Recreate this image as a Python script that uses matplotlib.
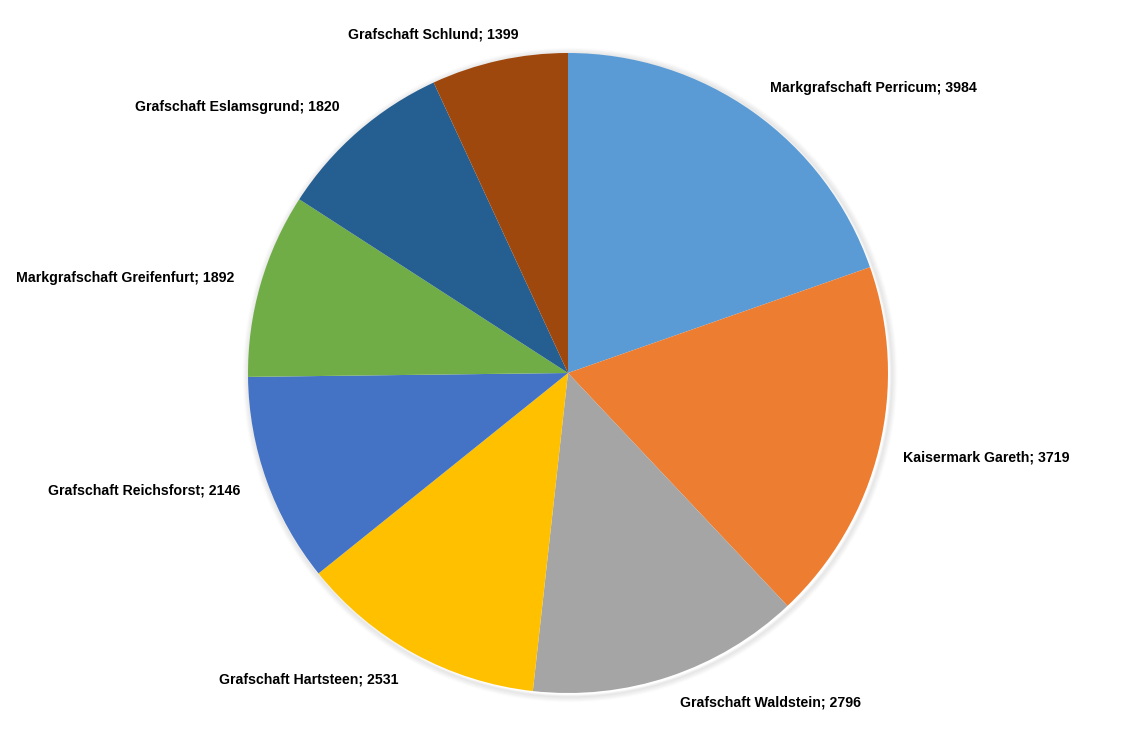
import matplotlib.pyplot as plt
from matplotlib.patches import Circle

# data
regions = [
    "Markgrafschaft Perricum",
    "Kaisermark Gareth",
    "Grafschaft Waldstein",
    "Grafschaft Hartsteen",
    "Grafschaft Reichsforst",
    "Markgrafschaft Greifenfurt",
    "Grafschaft Eslamsgrund",
    "Grafschaft Schlund",
]
population = [3984, 3719, 2796, 2531, 2146, 1892, 1820, 1399]
colors = ["#5B9BD5", "#ED7D31", "#A5A5A5", "#FFC000",
          "#4472C4", "#70AD47", "#255E91", "#9E480E"]

W, H = 1136, 741
cx, cy, R = 568, 373, 320

fig = plt.figure(figsize=(W / 100, H / 100), dpi=100)
ax = fig.add_axes([0, 0, 1, 1])

# soft shadow around the pie
for k in range(6):
    ax.add_patch(Circle((2, -2), R + 1 + k, facecolor="none",
                        edgecolor="black", alpha=0.04 - k * 0.006,
                        linewidth=2, zorder=0))

labels = [f"{r}; {v}" for r, v in zip(regions, population)]
wedges, texts = ax.pie(
    population,
    labels=labels,
    colors=colors,
    startangle=90,
    counterclock=False,
    radius=R,
    labeldistance=1.07,
    wedgeprops=dict(linewidth=0),
    textprops=dict(fontsize=10.2, fontweight="bold", family="Liberation Sans"),
)
for w in wedges:
    w.set_zorder(2)

# small nudges (pixels) so labels sit where the reference puts them
nudges = [(4, 6), (2, -3), (3, -5), (-5, -6), (-5, -2), (-5, 0), (-4, 7), (24, 4)]
for t, (dx, dy) in zip(texts, nudges):
    x, y = t.get_position()
    t.set_position((x + dx, y + dy))

# pixel-like coordinates, pie centre where the reference has it
ax.set_xlim(-cx, W - cx)
ax.set_ylim(-(H - cy), cy)
ax.set_aspect("equal")
ax.axis("off")

fig.savefig("out.png", dpi=100, facecolor="white")
